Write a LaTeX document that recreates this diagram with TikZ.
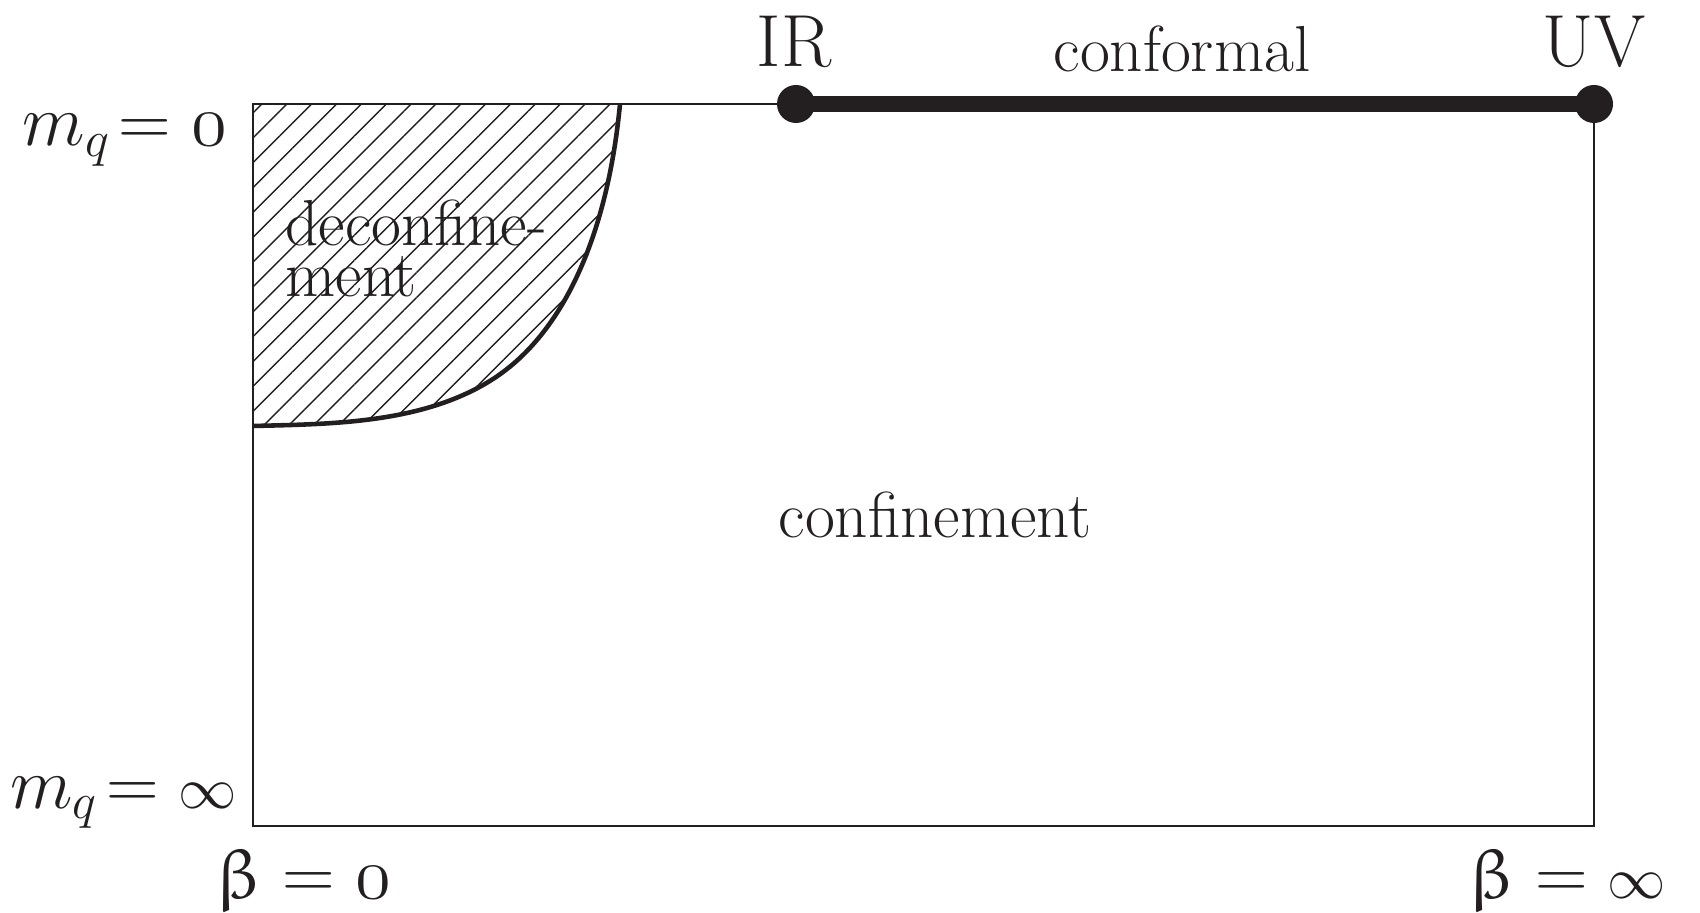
\documentclass[tikz,border=0pt]{standalone}
\usepackage{upgreek}
\usetikzlibrary{%
	positioning,%
	patterns.meta,%
}
\definecolor{ink}{RGB}{35, 31, 32}
\newcommand{\lowinf}{\mbox{\scalebox{0.8}{$\infty$}}}
\tikzset{
	lbl/.style={%
			inner sep=0,%
			text=ink,%
			align=left,%
			font={\fontsize{18.5}{14.5}\selectfont}},%
	endlbl/.style={%
			inner sep=0,%
			text=ink,%
			font={\fontsize{21}{24}\selectfont}},%
	axlbl/.style={%
			inner sep=0,%
			text=ink,%
			font={\fontsize{20}{24}\selectfont}},%
	fixpt/.style={%
			circle,%
			fill=ink,%
			inner sep=0,%
			minimum size=0.38cm},%
	frame/.style={draw=ink, line width=0.8pt},%
	boundary/.style={draw=ink, line width=1.3pt},%
	conformalline/.style={draw=ink, line width=4.6pt},%
	hatch/.style={%
			pattern={Lines[angle=45, distance=5pt, line width=0.4pt]},%
			pattern color=ink},%
}

\begin{document}
\begin{tikzpicture}[x=0.01cm, y=-0.01cm]%
	\useasboundingbox (0,0) rectangle (1700,913);

	\coordinate (sw) at (253,826);
	\coordinate (ne) at (1594,104);
	\coordinate (nw) at (253,104);
	\coordinate (bt) at (620,104);
	\coordinate (bl) at (253,426);

	% deconfined corner
	\fill[hatch] (nw) -- (bt) .. controls (608,230) and (566,332) .. (493,379)
		.. controls (423,424) and (330,424) .. (bl) -- cycle;

	\draw[frame] (sw) rectangle (ne);
	\draw[boundary] (bt) .. controls (608,230) and (566,332) .. (493,379)
		.. controls (423,424) and (330,424) .. (bl);

	% conformal window
	\node[fixpt] (ir) at (796,104) {};
	\node[fixpt] (uv) at (ne) {};
	\draw[conformalline] (ir.center) -- (uv.center);

	\node[endlbl, anchor=base] (irlbl) at (794,67) {IR};
	\node[endlbl, anchor=base] (uvlbl) at (1594,67) {UV};
	\node[lbl, anchor=base] (conflbl) at (1182,72) {conformal};

	\node[lbl, anchor=north west] (deconf) at (285,199) {deconfine-\\ment};
	\node[lbl, anchor=base west] (confin) at (778,538) {confinement};

	% axes
	\node[axlbl, anchor=base east] (mzero) at (228,146) {$m_q\!= \mathnormal{0}$};
	\node[axlbl, anchor=base east] (minf) at (238,808) {$m_q\!= \lowinf$};
	\node[axlbl, anchor=base west] (bzero) at (215,898) {$\upbeta = \mathnormal{0}$};
	\node[axlbl, anchor=base east] (binf) at (1667,898) {$\upbeta = \lowinf$};
\end{tikzpicture}
\end{document}
